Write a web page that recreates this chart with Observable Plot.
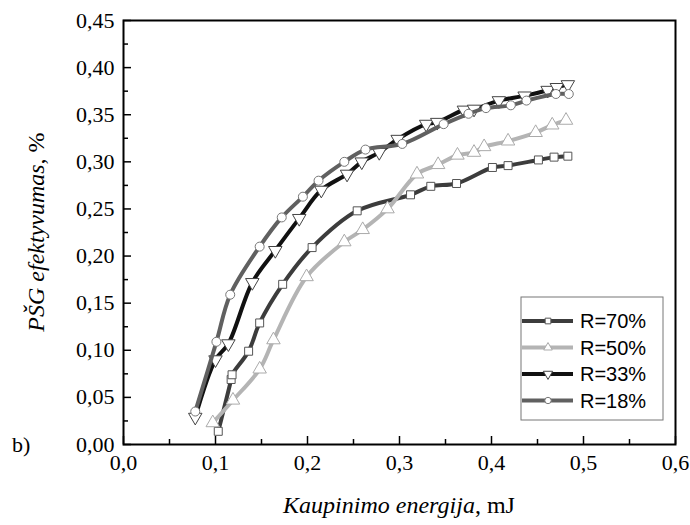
<!DOCTYPE html>
<html><head><meta charset="utf-8">
<script src="https://cdn.jsdelivr.net/npm/d3@7"></script>
<script src="https://cdn.jsdelivr.net/npm/@observablehq/plot@0.6"></script>
<style>body{margin:0;background:#fff}</style>
</head><body><div id="chart"></div>
<script>
// ---- data ----
const seriesNames = ["R=70%", "R=50%", "R=33%", "R=18%"];
const r70x = [0.103, 0.117, 0.118, 0.136, 0.148, 0.173, 0.205, 0.254, 0.312, 0.334, 0.362, 0.401, 0.418, 0.451, 0.468, 0.483];
const r70y = [0.014, 0.069, 0.074, 0.099, 0.129, 0.170, 0.209, 0.248, 0.265, 0.274, 0.277, 0.294, 0.296, 0.302, 0.305, 0.306];
const r50x = [0.097, 0.119, 0.148, 0.163, 0.199, 0.240, 0.260, 0.287, 0.319, 0.342, 0.363, 0.381, 0.392, 0.418, 0.448, 0.466, 0.481];
const r50y = [0.023, 0.047, 0.080, 0.111, 0.178, 0.215, 0.228, 0.250, 0.287, 0.297, 0.307, 0.310, 0.316, 0.322, 0.331, 0.339, 0.344];
const r33x = [0.078, 0.100, 0.114, 0.140, 0.165, 0.191, 0.215, 0.243, 0.259, 0.278, 0.298, 0.329, 0.341, 0.370, 0.381, 0.408, 0.436, 0.461, 0.471, 0.483];
const r33y = [0.029, 0.090, 0.107, 0.172, 0.206, 0.240, 0.270, 0.287, 0.300, 0.310, 0.324, 0.340, 0.342, 0.355, 0.356, 0.365, 0.370, 0.376, 0.379, 0.382];
const r18x = [0.078, 0.101, 0.116, 0.148, 0.172, 0.195, 0.212, 0.240, 0.263, 0.303, 0.348, 0.375, 0.394, 0.421, 0.438, 0.470, 0.484];
const r18y = [0.035, 0.109, 0.159, 0.210, 0.241, 0.263, 0.280, 0.300, 0.313, 0.319, 0.340, 0.351, 0.357, 0.360, 0.365, 0.372, 0.372];
const xTickValues = [0, 0.1, 0.2, 0.3, 0.4, 0.5, 0.6];
const xMinorTicks = [0.05, 0.15, 0.25, 0.35, 0.45, 0.55];
const yTickValues = [0, 0.05, 0.10, 0.15, 0.20, 0.25, 0.30, 0.35, 0.40, 0.45];
const yMinorTicks = [0.025, 0.075, 0.125, 0.175, 0.225, 0.275, 0.325, 0.375, 0.425];
const xTitle = ["Kaupinimo energija", ", mJ"];
const yTitle = ["PŠG efektyvumas", ", %"];
const panelLabel = "b)";

// ---- styles ----
const serif = "'Liberation Serif', 'Times New Roman', 'DejaVu Serif', serif";
const sans = "'Liberation Sans', Arial, sans-serif";
const lineColors = ["#3c3c3c", "#b4b4b4", "#111111", "#606060"];
const markerStroke = ["#555", "#aaa", "#444", "#777"];
const triangleDown = {
  draw(context, size) {
    const a = Math.sqrt(4 * size / Math.sqrt(3));
    const h = a * Math.sqrt(3) / 2;
    context.moveTo(0, 2 * h / 3);
    context.lineTo(-a / 2, -h / 3);
    context.lineTo(a / 2, -h / 3);
    context.closePath();
  }
};
const symbols = ["square", "triangle", triangleDown, "circle"];
const radii = [4.5, 5, 5, 4.5];

const xs = [r70x, r50x, r33x, r18x];
const ys = [r70y, r50y, r33y, r18y];
const series = seriesNames.map((name, i) => xs[i].map((x, j) => ({series: name, x, y: ys[i][j]})));

const W = 690, H = 525, mL = 123, mR = 15, mT = 20, mB = 81;
const fmtX = d => d.toFixed(1).replace(".", ",");
const fmtY = d => d.toFixed(2).replace(".", ",");

const marks = [
  Plot.tickX(xTickValues, {x: d => d, stroke: "black", strokeWidth: 1.5, insetTop: (H - mT - mB) - 8}),
  Plot.tickX(xMinorTicks, {x: d => d, stroke: "black", strokeWidth: 1.5, insetTop: (H - mT - mB) - 5}),
  Plot.tickY(yTickValues, {y: d => d, stroke: "black", strokeWidth: 1.5, insetRight: (W - mL - mR) - 8}),
  Plot.tickY(yMinorTicks, {y: d => d, stroke: "black", strokeWidth: 1.5, insetRight: (W - mL - mR) - 5}),
  Plot.axisX({ticks: xTickValues, tickSize: 0, tickPadding: 10, tickFormat: fmtX, label: null, fontSize: 22, fontFamily: serif}),
  Plot.axisY({ticks: yTickValues, tickSize: 0, tickPadding: 9, tickFormat: fmtY, label: null, fontSize: 22, fontFamily: serif}),
];
series.forEach((data, i) => {
  marks.push(Plot.line(data, {x: "x", y: "y", stroke: lineColors[i], strokeWidth: 4, curve: "catmull-rom"}));
  marks.push(Plot.dot(data, {x: "x", y: "y", symbol: symbols[i], r: radii[i], fill: "white", stroke: markerStroke[i], strokeWidth: 1}));
});
marks.push(Plot.frame({stroke: "black", strokeWidth: 2}));

const svg = Plot.plot({
  width: W, height: H,
  marginLeft: mL, marginRight: mR, marginTop: mT, marginBottom: mB,
  x: {domain: [0, 0.6]},
  y: {domain: [0, 0.45]},
  style: {fontFamily: serif, fontSize: "22px", background: "white", color: "black", overflow: "visible"},
  marks
});

const s = d3.select(svg);
s.selectAll("text").style("font-family", serif);
// x title
const xt = s.append("text")
  .attr("x", mL + (W - mL - mR) / 2).attr("y", H - 12)
  .attr("text-anchor", "middle").style("font-family", serif).attr("font-size", 24).attr("fill", "black");
xt.append("tspan").attr("font-style", "italic").text(xTitle[0]);
xt.append("tspan").text(xTitle[1]);
// y title
const yt = s.append("text")
  .attr("transform", `translate(44,${mT + (H - mT - mB) / 2}) rotate(-90)`)
  .attr("text-anchor", "middle").style("font-family", serif).attr("font-size", 24).attr("fill", "black");
yt.append("tspan").attr("font-style", "italic").text(yTitle[0]);
yt.append("tspan").text(yTitle[1]);
// panel label
s.append("text").attr("x", 12).attr("y", H - mB + 8).attr("text-anchor", "start")
  .style("font-family", serif).attr("font-size", 22).attr("fill", "black").text(panelLabel);

// legend
const lgRight = W - mR - 12, lgBottom = H - mB - 24;
const lgW = 142, lgH = 123;
const lg = s.append("g").attr("transform", `translate(${lgRight - lgW},${lgBottom - lgH})`);
lg.append("rect").attr("width", lgW).attr("height", lgH).attr("fill", "white").attr("stroke", "#777").attr("stroke-width", 1);
seriesNames.forEach((name, i) => {
  const y = 24 + i * 26.5;
  lg.append("line").attr("x1", 1).attr("x2", 52).attr("y1", y).attr("y2", y)
    .attr("stroke", lineColors[i]).attr("stroke-width", 4);
  const sym = typeof symbols[i] === "string" ? d3.symbol(
    {square: d3.symbolSquare, triangle: d3.symbolTriangle, circle: d3.symbolCircle}[symbols[i]], Math.PI * 3.2 * 3.2)
    : d3.symbol(symbols[i], Math.PI * 3.5 * 3.5);
  lg.append("path").attr("d", sym()).attr("transform", `translate(27,${y})`)
    .attr("fill", "white").attr("stroke", markerStroke[i]).attr("stroke-width", 1);
  lg.append("text").attr("x", 59).attr("y", y).attr("dy", "0.36em").attr("text-anchor", "start")
    .style("font-family", sans).attr("font-size", 20).attr("fill", "black").text(name);
});

document.getElementById("chart").appendChild(svg);
</script>
</body></html>
